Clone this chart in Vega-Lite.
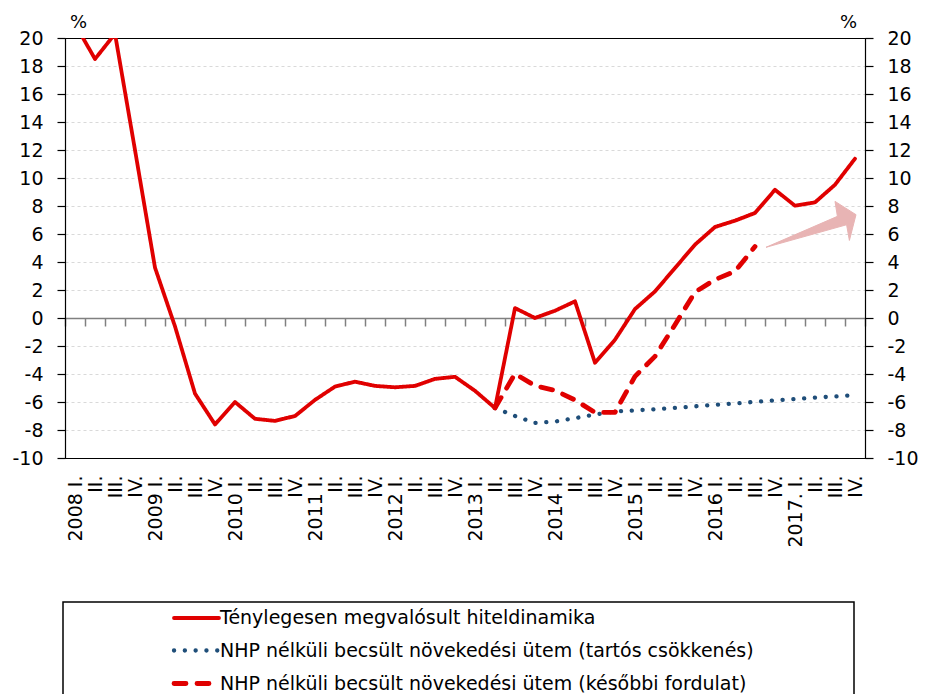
{
  "$schema": "https://vega.github.io/schema/vega-lite/v6.json",
  "width": 800,
  "height": 420,
  "autosize": {"type": "none"},
  "padding": {"left": 65, "top": 38, "right": 60, "bottom": 236},
  "background": "white",
  "config": {
    "view": {"stroke": "black", "strokeWidth": 1},
    "font": "DejaVu Sans",
    "axis": {"labelFont": "DejaVu Sans", "labelFontSize": 19, "labelColor": "black", "titleFont": "DejaVu Sans", "titleFontWeight": "normal", "titleColor": "black", "titleFontSize": 18},
    "legend": {"strokeWidth": 1.5}
  },
  "datasets": {
    "nyil": [
      {"k": 1, "i": 34.55, "v": 5.05},
      {"k": 2, "i": 38.12, "v": 7.26},
      {"k": 3, "i": 38.0, "v": 8.33},
      {"k": 4, "i": 39.05, "v": 7.38},
      {"k": 5, "i": 38.72, "v": 5.54},
      {"k": 6, "i": 38.58, "v": 6.66}
    ],
    "hitel": [
      {"s": "Ténylegesen megvalósult hiteldinamika", "i": 0, "v": 21},
      {"s": "Ténylegesen megvalósult hiteldinamika", "i": 1, "v": 18.5},
      {"s": "Ténylegesen megvalósult hiteldinamika", "i": 2, "v": 20.3},
      {"s": "Ténylegesen megvalósult hiteldinamika", "i": 3, "v": 12},
      {"s": "Ténylegesen megvalósult hiteldinamika", "i": 4, "v": 3.6},
      {"s": "Ténylegesen megvalósult hiteldinamika", "i": 5, "v": -0.6},
      {"s": "Ténylegesen megvalósult hiteldinamika", "i": 6, "v": -5.4},
      {"s": "Ténylegesen megvalósult hiteldinamika", "i": 7, "v": -7.6},
      {"s": "Ténylegesen megvalósult hiteldinamika", "i": 8, "v": -6.0},
      {"s": "Ténylegesen megvalósult hiteldinamika", "i": 9, "v": -7.2},
      {"s": "Ténylegesen megvalósult hiteldinamika", "i": 10, "v": -7.35},
      {"s": "Ténylegesen megvalósult hiteldinamika", "i": 11, "v": -7.0},
      {"s": "Ténylegesen megvalósult hiteldinamika", "i": 12, "v": -5.85},
      {"s": "Ténylegesen megvalósult hiteldinamika", "i": 13, "v": -4.9},
      {"s": "Ténylegesen megvalósult hiteldinamika", "i": 14, "v": -4.55},
      {"s": "Ténylegesen megvalósult hiteldinamika", "i": 15, "v": -4.85},
      {"s": "Ténylegesen megvalósult hiteldinamika", "i": 16, "v": -4.95},
      {"s": "Ténylegesen megvalósult hiteldinamika", "i": 17, "v": -4.85},
      {"s": "Ténylegesen megvalósult hiteldinamika", "i": 18, "v": -4.35},
      {"s": "Ténylegesen megvalósult hiteldinamika", "i": 19, "v": -4.2},
      {"s": "Ténylegesen megvalósult hiteldinamika", "i": 20, "v": -5.2},
      {"s": "Ténylegesen megvalósult hiteldinamika", "i": 21, "v": -6.43},
      {"s": "Ténylegesen megvalósult hiteldinamika", "i": 22, "v": 0.71},
      {"s": "Ténylegesen megvalósult hiteldinamika", "i": 23, "v": 0.0},
      {"s": "Ténylegesen megvalósult hiteldinamika", "i": 24, "v": 0.52},
      {"s": "Ténylegesen megvalósult hiteldinamika", "i": 25, "v": 1.19},
      {"s": "Ténylegesen megvalósult hiteldinamika", "i": 26, "v": -3.2},
      {"s": "Ténylegesen megvalósult hiteldinamika", "i": 27, "v": -1.55},
      {"s": "Ténylegesen megvalósult hiteldinamika", "i": 28, "v": 0.64},
      {"s": "Ténylegesen megvalósult hiteldinamika", "i": 29, "v": 1.9},
      {"s": "Ténylegesen megvalósult hiteldinamika", "i": 30, "v": 3.57},
      {"s": "Ténylegesen megvalósult hiteldinamika", "i": 31, "v": 5.24},
      {"s": "Ténylegesen megvalósult hiteldinamika", "i": 32, "v": 6.5},
      {"s": "Ténylegesen megvalósult hiteldinamika", "i": 33, "v": 6.95},
      {"s": "Ténylegesen megvalósult hiteldinamika", "i": 34, "v": 7.5},
      {"s": "Ténylegesen megvalósult hiteldinamika", "i": 35, "v": 9.16},
      {"s": "Ténylegesen megvalósult hiteldinamika", "i": 36, "v": 8.02},
      {"s": "Ténylegesen megvalósult hiteldinamika", "i": 37, "v": 8.26},
      {"s": "Ténylegesen megvalósult hiteldinamika", "i": 38, "v": 9.52},
      {"s": "Ténylegesen megvalósult hiteldinamika", "i": 39, "v": 11.38},
      {"s": "NHP nélküli becsült növekedési ütem (tartós csökkenés)", "i": 21, "v": -6.43},
      {"s": "NHP nélküli becsült növekedési ütem (tartós csökkenés)", "i": 22, "v": -7.0},
      {"s": "NHP nélküli becsült növekedési ütem (tartós csökkenés)", "i": 23, "v": -7.5},
      {"s": "NHP nélküli becsült növekedési ütem (tartós csökkenés)", "i": 24, "v": -7.4},
      {"s": "NHP nélküli becsült növekedési ütem (tartós csökkenés)", "i": 25, "v": -7.15},
      {"s": "NHP nélküli becsült növekedési ütem (tartós csökkenés)", "i": 26, "v": -6.9},
      {"s": "NHP nélküli becsült növekedési ütem (tartós csökkenés)", "i": 27, "v": -6.67},
      {"s": "NHP nélküli becsült növekedési ütem (tartós csökkenés)", "i": 28, "v": -6.6},
      {"s": "NHP nélküli becsült növekedési ütem (tartós csökkenés)", "i": 29, "v": -6.52},
      {"s": "NHP nélküli becsült növekedési ütem (tartós csökkenés)", "i": 30, "v": -6.42},
      {"s": "NHP nélküli becsült növekedési ütem (tartós csökkenés)", "i": 31, "v": -6.31},
      {"s": "NHP nélküli becsült növekedési ütem (tartós csökkenés)", "i": 32, "v": -6.2},
      {"s": "NHP nélküli becsült növekedési ütem (tartós csökkenés)", "i": 33, "v": -6.1},
      {"s": "NHP nélküli becsült növekedési ütem (tartós csökkenés)", "i": 34, "v": -5.99},
      {"s": "NHP nélküli becsült növekedési ütem (tartós csökkenés)", "i": 35, "v": -5.88},
      {"s": "NHP nélküli becsült növekedési ütem (tartós csökkenés)", "i": 36, "v": -5.79},
      {"s": "NHP nélküli becsült növekedési ütem (tartós csökkenés)", "i": 37, "v": -5.69},
      {"s": "NHP nélküli becsült növekedési ütem (tartós csökkenés)", "i": 38, "v": -5.6},
      {"s": "NHP nélküli becsült növekedési ütem (tartós csökkenés)", "i": 39, "v": -5.5},
      {"s": "NHP nélküli becsült növekedési ütem (későbbi fordulat)", "i": 21, "v": -6.43},
      {"s": "NHP nélküli becsült növekedési ütem (későbbi fordulat)", "i": 22, "v": -3.98},
      {"s": "NHP nélküli becsült növekedési ütem (későbbi fordulat)", "i": 23, "v": -4.84},
      {"s": "NHP nélküli becsült növekedési ütem (későbbi fordulat)", "i": 24, "v": -5.17},
      {"s": "NHP nélküli becsült növekedési ütem (későbbi fordulat)", "i": 25, "v": -5.86},
      {"s": "NHP nélküli becsült növekedési ütem (későbbi fordulat)", "i": 26, "v": -6.75},
      {"s": "NHP nélküli becsült növekedési ütem (későbbi fordulat)", "i": 27, "v": -6.74},
      {"s": "NHP nélküli becsült növekedési ütem (későbbi fordulat)", "i": 28, "v": -4.17},
      {"s": "NHP nélküli becsült növekedési ütem (későbbi fordulat)", "i": 29, "v": -2.74},
      {"s": "NHP nélküli becsült növekedési ütem (későbbi fordulat)", "i": 30, "v": -0.48},
      {"s": "NHP nélküli becsült növekedési ütem (későbbi fordulat)", "i": 31, "v": 1.85},
      {"s": "NHP nélküli becsült növekedési ütem (későbbi fordulat)", "i": 32, "v": 2.74},
      {"s": "NHP nélküli becsült növekedési ütem (későbbi fordulat)", "i": 33, "v": 3.33},
      {"s": "NHP nélküli becsült növekedési ütem (későbbi fordulat)", "i": 34, "v": 5.1}
    ]
  },
  "layer": [
    {
      "data": {"name": "nyil"},
      "mark": {"type": "line", "interpolate": "linear-closed", "fill": "#E8B4B4", "stroke": "#E8B4B4", "strokeWidth": 1},
      "encoding": {
        "x": {
          "field": "i", "type": "quantitative",
          "scale": {"domain": [-0.5, 39.5], "nice": false, "zero": false},
          "axis": {
            "orient": "bottom", "offset": -140, "title": null, "labels": false, "grid": false,
            "ticks": true, "tickSize": 8, "tickColor": "#808080", "tickWidth": 1.5,
            "domain": true, "domainColor": "#808080", "domainWidth": 1.5,
            "values": [-0.5, 0.5, 1.5, 2.5, 3.5, 4.5, 5.5, 6.5, 7.5, 8.5, 9.5, 10.5, 11.5, 12.5, 13.5, 14.5, 15.5, 16.5, 17.5, 18.5, 19.5, 20.5, 21.5, 22.5, 23.5, 24.5, 25.5, 26.5, 27.5, 28.5, 29.5, 30.5, 31.5, 32.5, 33.5, 34.5, 35.5, 36.5, 37.5, 38.5, 39.5]
          }
        },
        "y": {
          "field": "v", "type": "quantitative",
          "scale": {"domain": [-10, 20], "nice": false, "zero": false},
          "axis": {
            "orient": "right", "values": [-10, -8, -6, -4, -2, 0, 2, 4, 6, 8, 10, 12, 14, 16, 18, 20],
            "grid": false, "domainColor": "black", "domainWidth": 1.2, "tickColor": "black", "tickSize": 8, "tickWidth": 1.2,
            "labelPadding": 14, "labelAlign": "left", "labelExpr": "replace(datum.label, '−', '-')",
            "title": "%", "titleAngle": 0, "titleAlign": "center", "titleBaseline": "middle", "titleX": -17, "titleY": -16
          }
        },
        "order": {"field": "k", "type": "quantitative"}
      }
    },
    {
      "data": {"name": "hitel"},
      "mark": {"type": "line", "clip": true, "strokeCap": "round", "strokeJoin": "round"},
      "encoding": {
        "x": {
          "field": "i", "type": "quantitative",
          "scale": {"domain": [-0.5, 39.5], "nice": false, "zero": false},
          "axis": {
            "orient": "bottom", "title": null, "domain": false, "ticks": false, "tickSize": 0, "grid": false,
            "values": [0, 1, 2, 3, 4, 5, 6, 7, 8, 9, 10, 11, 12, 13, 14, 15, 16, 17, 18, 19, 20, 21, 22, 23, 24, 25, 26, 27, 28, 29, 30, 31, 32, 33, 34, 35, 36, 37, 38, 39],
            "labelExpr": "['2008 I.','II.','III.','IV.','2009 I.','II.','III.','IV.','2010 I.','II.','III.','IV.','2011 I.','II.','III.','IV.','2012 I.','II.','III.','IV.','2013 I.','II.','III.','IV.','2014 I.','II.','III.','IV.','2015 I.','II.','III.','IV.','2016 I.','II.','III.','IV.','2017. I.','II.','III.','IV.'][datum.value]",
            "labelAngle": 270, "labelAlign": "right", "labelBaseline": "middle", "labelPadding": 17,
            "labelOverlap": false, "labelFlush": false, "labelBound": false
          }
        },
        "y": {
          "field": "v", "type": "quantitative",
          "scale": {"domain": [-10, 20], "nice": false, "zero": false},
          "axis": {
            "orient": "left", "values": [-10, -8, -6, -4, -2, 0, 2, 4, 6, 8, 10, 12, 14, 16, 18, 20],
            "grid": true,
            "gridColor": {"condition": {"test": "datum.value == 20 || datum.value == -10", "value": "black"}, "value": "#d9d9d9"},
            "gridDash": {"condition": {"test": "datum.value == 20 || datum.value == -10", "value": []}, "value": [3, 3]},
            "gridWidth": 1,
            "domainColor": "black", "domainWidth": 1.2, "tickColor": "black", "tickSize": 8, "tickWidth": 1.2,
            "labelPadding": 14, "labelExpr": "replace(datum.label, '−', '-')",
            "title": "%", "titleAngle": 0, "titleAlign": "center", "titleBaseline": "middle", "titleX": 13, "titleY": -16
          }
        },
        "strokeWidth": {
          "field": "s", "type": "nominal",
          "scale": {
            "domain": ["Ténylegesen megvalósult hiteldinamika", "NHP nélküli becsült növekedési ütem (tartós csökkenés)", "NHP nélküli becsült növekedési ütem (későbbi fordulat)"],
            "range": [3.8, 4.8, 3.8]
          },
          "legend": null
        },
        "color": {
          "field": "s", "type": "nominal",
          "scale": {
            "domain": ["Ténylegesen megvalósult hiteldinamika", "NHP nélküli becsült növekedési ütem (tartós csökkenés)", "NHP nélküli becsült növekedési ütem (későbbi fordulat)"],
            "range": ["#E00000", "#1F4E79", "#E00000"]
          },
          "legend": {
            "orient": "none", "legendX": -2, "legendY": 564, "direction": "vertical", "title": null,
            "strokeColor": "black", "fillColor": "white", "padding": 5,
            "symbolType": "M-2.5,0L2.5,0M71.4,0", "symbolSize": 324, "symbolStrokeWidth": 4, "symbolOffset": 117,
            "labelOffset": 12, "labelFont": "DejaVu Sans", "labelFontSize": 19, "labelColor": "black", "labelLimit": 0,
            "rowPadding": 11,
            "encode": {"symbols": {"update": {"strokeCap": {"value": "round"}, "fill": {"value": "transparent"}}}}
          }
        },
        "strokeDash": {
          "field": "s", "type": "nominal",
          "scale": {
            "domain": ["Ténylegesen megvalósult hiteldinamika", "NHP nélküli becsült növekedési ütem (tartós csökkenés)", "NHP nélküli becsült növekedési ütem (későbbi fordulat)"],
            "range": [[1, 0], [0.1, 10.7], [12, 11]]
          },
          "legend": {
            "orient": "none", "legendX": -2, "legendY": 564, "direction": "vertical", "title": null,
            "strokeColor": "black", "fillColor": "white", "padding": 5,
            "symbolType": "M-2.5,0L2.5,0M71.4,0", "symbolSize": 324, "symbolStrokeWidth": 4, "symbolOffset": 117,
            "labelOffset": 12, "labelFont": "DejaVu Sans", "labelFontSize": 19, "labelColor": "black", "labelLimit": 0,
            "rowPadding": 11,
            "encode": {"symbols": {"update": {"strokeCap": {"value": "round"}, "fill": {"value": "transparent"}}}}
          }
        }
      }
    }
  ],
  "resolve": {"axis": {"x": "independent", "y": "independent"}}
}
